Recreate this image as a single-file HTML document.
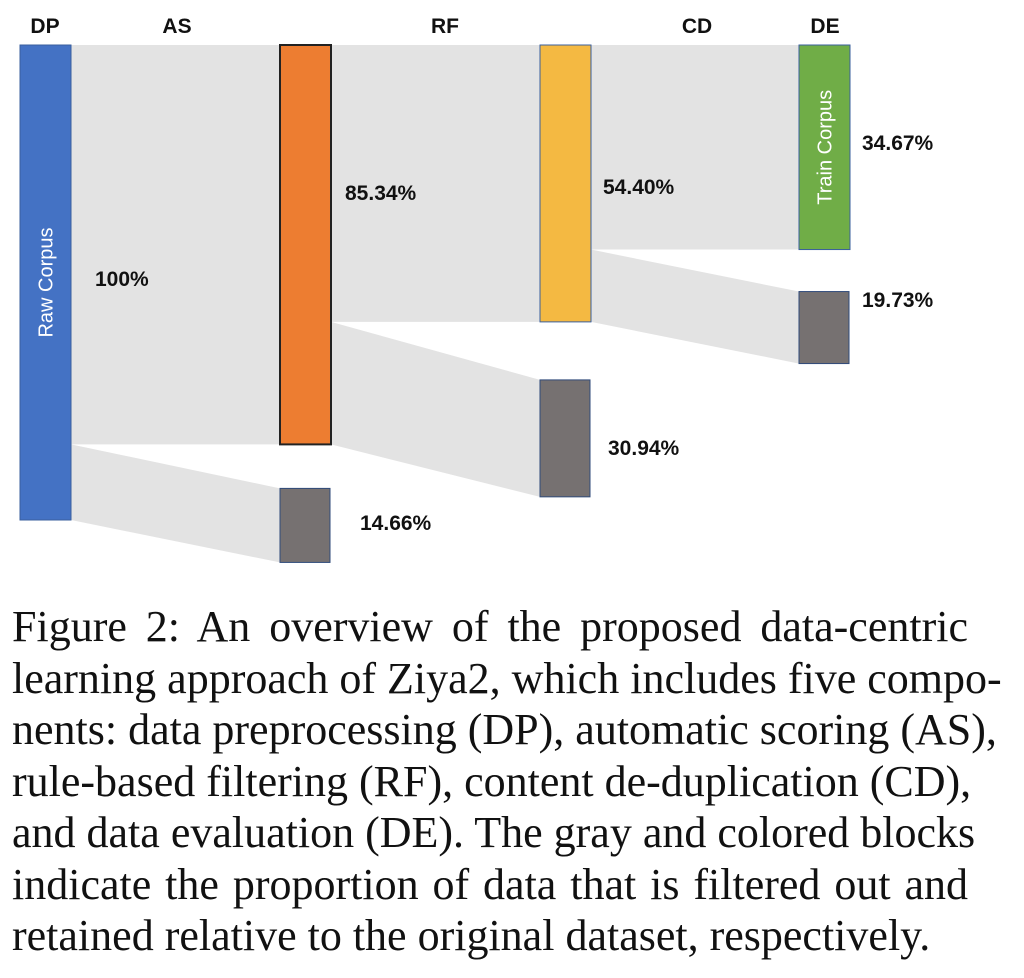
<!DOCTYPE html>
<html><head><meta charset="utf-8"><style>
html,body{margin:0;padding:0;background:#fff;width:1024px;height:978px;overflow:hidden}
svg{position:absolute;left:0;top:0}
.cap{position:absolute;left:12px;width:956px;top:601px;font-family:"Liberation Serif",serif;font-size:44px;color:#111}
.cap div{height:51.5px;line-height:51.5px;text-align:justify;text-align-last:justify;white-space:nowrap}
.cap div.last{text-align-last:left}
</style></head><body>
<svg width="1024" height="590" id="chart"></svg>
<div class="cap">
<div>Figure 2: An overview of the proposed data-centric</div>
<div>learning approach of Ziya2, which includes five compo-</div>
<div>nents: data preprocessing (DP), automatic scoring (AS),</div>
<div>rule-based filtering (RF), content de-duplication (CD),</div>
<div>and data evaluation (DE). The gray and colored blocks</div>
<div>indicate the proportion of data that is filtered out and</div>
<div class="last">retained relative to the original dataset, respectively.</div>
</div>
<script>
const stages=["DP","AS","RF","CD","DE"];
const retained=[100,85.34,54.40,34.67];
const filtered=[14.66,30.94,19.73];
const retainedLabels=["100%","85.34%","54.40%","34.67%"];
const filteredLabels=["14.66%","30.94%","19.73%"];
const blockNames=["Raw Corpus","","","Train Corpus"];
const colors=["#4472c4","#ed7d31","#f4b942","#70ad47"];
const NS="http://www.w3.org/2000/svg";
const svg=document.getElementById('chart');
const top0=45;
// per-column drawing scales (px per percent), as in the original non-proportional figure
const kr=[4.75,4.68,5.09,5.9], kf=[5.05,3.78,3.65];
const colX=[20,280,540,799], bw=51;
const gaps=[44,58,42];
function mk(t,a,p){const e=document.createElementNS(NS,t);for(const n in a)e.setAttribute(n,a[n]);(p||svg).appendChild(e);return e;}
const hr=i=>retained[i]*kr[i];
const hf=i=>filtered[i]*kf[i];
// flows
for(let i=0;i<3;i++){
  const x0=colX[i]+bw,x1=colX[i+1];
  const yr=top0+hr(i+1);
  const f=mk('polygon',{points:`${x0},${top0} ${x1},${top0} ${x1},${yr} ${x0},${yr}`,fill:'#e3e3e3'});
  
  
  const ys=yr, ye=top0+hr(i);
  const gt=yr+gaps[i], gb=gt+hf(i);
  const g=mk('polygon',{points:`${x0},${ys} ${x1},${gt} ${x1},${gb} ${x0},${ye}`,fill:'#e3e3e3'});
  
  
}
// blocks
for(let i=0;i<4;i++){
  const r=mk('rect',{x:colX[i],y:top0,width:bw,height:hr(i),fill:colors[i],stroke:i==1?'#222':'#3a5f9e','stroke-width':i==1?2:1});
  
  
  if(blockNames[i]){
    const cx=colX[i]+bw/2, cy=top0+hr(i)/2;
    const t=mk('text',{x:cx,y:cy+7,transform:`rotate(-90 ${cx} ${cy})`,'text-anchor':'middle','font-family':'Liberation Sans, sans-serif','font-size':20,fill:'#fff'});
    t.textContent=blockNames[i];
    
    
  }
  const lx=[95,345,603,862][i], ly=[278,192,186,142][i];
  const l=mk('text',{x:lx,y:ly+8,'font-family':'Liberation Sans, sans-serif','font-size':21,'font-weight':'bold',fill:'#111'});
  l.textContent=retainedLabels[i];
  
  
}
for(let i=0;i<3;i++){
  const gt=top0+hr(i+1)+gaps[i];
  const r=mk('rect',{x:colX[i+1],y:gt,width:bw-1,height:hf(i),fill:'#767171',stroke:'#2f4a7a','stroke-width':1});
  
  
  const lx=[360,608,862][i], ly=[522,447,299][i];
  const l=mk('text',{x:lx,y:ly+8,'font-family':'Liberation Sans, sans-serif','font-size':21,'font-weight':'bold',fill:'#111'});
  l.textContent=filteredLabels[i];
  
  
}
const hx=[45,177,445,697,825];
stages.forEach((s,i)=>{
  const t=mk('text',{x:hx[i],y:33,'text-anchor':'middle','font-family':'Liberation Sans, sans-serif','font-size':21,'font-weight':'bold',fill:'#111'});
  t.textContent=s;
  
  
});
</script>
</body></html>
